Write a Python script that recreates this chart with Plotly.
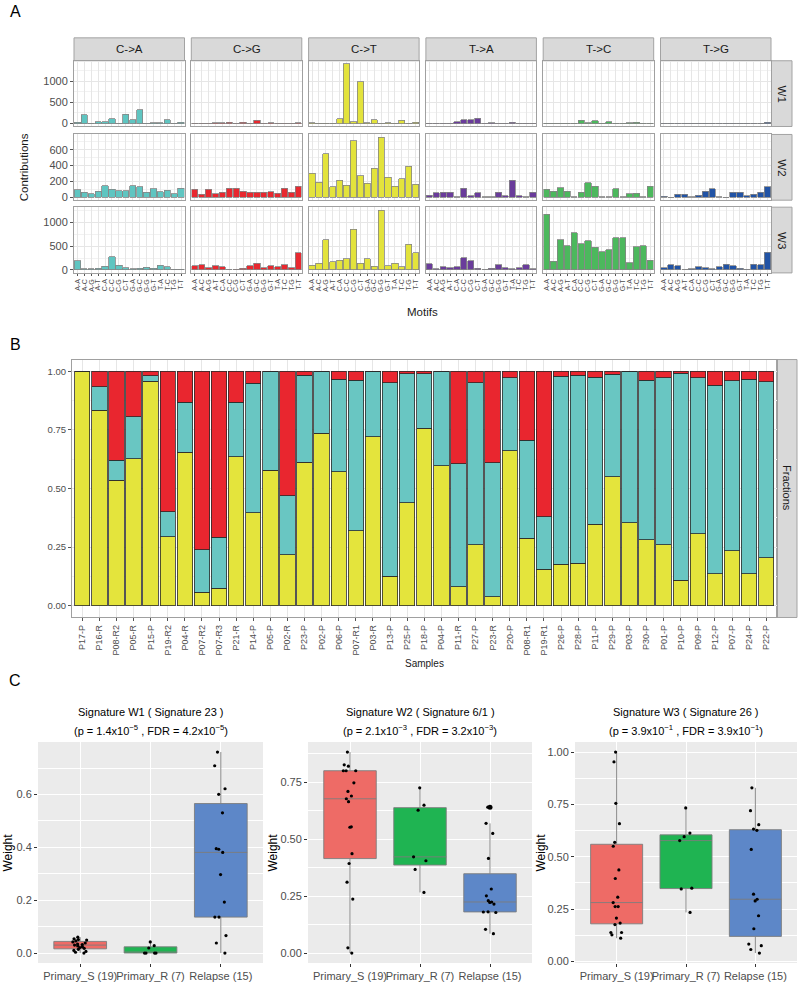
import numpy as np
import plotly.graph_objects as go

FIG_W, FIG_H = 800, 989
FONT = "Liberation Sans, Arial, sans-serif"

# ---------------- Panel A data ----------------
mutation_types = ["C->A", "C->G", "C->T", "T->A", "T->C", "T->G"]
mutation_colors = ["#5fc5c1", "#e8282f", "#e3e33c", "#6a3c9b", "#4cb85d", "#2153a5"]
motif_contexts = ["A-A", "A-C", "A-G", "A-T", "C-A", "C-C", "C-G", "C-T",
                  "G-A", "G-C", "G-G", "G-T", "T-A", "T-C", "T-G", "T-T"]
signature_names = ["W1", "W2", "W3"]

w1_contributions = [
    [25, 210, 5, 40, 40, 113, 5, 225, 90, 330, 5, 15, 15, 90, 3, 30],
    [8, 5, 3, 20, 20, 25, 3, 35, 10, 75, 3, 20, 3, 3, 3, 15],
    [15, 8, 2, 2, 110, 1420, 40, 990, 20, 90, 3, 20, 5, 80, 3, 25],
    [10, 10, 3, 10, 40, 90, 95, 125, 3, 20, 3, 3, 25, 5, 5, 5],
    [5, 3, 10, 5, 3, 80, 20, 70, 5, 45, 3, 3, 15, 25, 3, 5],
    [5, 3, 5, 3, 3, 8, 3, 3, 3, 5, 3, 3, 3, 3, 3, 30],
]
w2_contributions = [
    [95, 65, 45, 77, 145, 100, 80, 80, 145, 130, 65, 105, 70, 90, 45, 110],
    [98, 35, 98, 45, 60, 115, 115, 77, 65, 65, 65, 72, 50, 110, 65, 140],
    [305, 190, 550, 135, 217, 153, 715, 268, 175, 366, 755, 255, 140, 230, 392, 166],
    [25, 55, 65, 65, 8, 110, 17, 55, 8, 8, 65, 20, 213, 20, 3, 65],
    [100, 77, 120, 77, 8, 60, 183, 140, 8, 3, 105, 8, 45, 50, 3, 136],
    [15, 2, 40, 40, 8, 25, 77, 105, 8, 2, 60, 60, 17, 40, 65, 132],
]
w3_contributions = [
    [190, 20, 28, 35, 77, 280, 100, 42, 20, 40, 55, 35, 100, 63, 12, 12],
    [92, 105, 50, 92, 70, 3, 12, 35, 92, 140, 50, 85, 63, 105, 50, 360],
    [100, 140, 635, 170, 205, 232, 852, 140, 232, 77, 1260, 85, 140, 70, 540, 360],
    [127, 28, 63, 42, 63, 260, 190, 35, 3, 35, 105, 50, 20, 50, 105, 20],
    [1175, 183, 640, 507, 780, 550, 612, 480, 387, 430, 683, 683, 155, 486, 507, 204],
    [42, 113, 92, 3, 20, 63, 50, 20, 70, 120, 92, 35, 14, 120, 113, 373],
]
row_dticks = [500, 200, 500]

# ---------------- Panel B data ----------------
sample_names = ["P17-P", "P16-R", "P08-R2", "P05-R", "P15-P", "P19-R2", "P04-R", "P07-R2",
                "P07-R3", "P21-R", "P14-P", "P05-P", "P02-R", "P23-P", "P02-P", "P06-P",
                "P07-R1", "P03-R", "P13-P", "P25-P", "P18-P", "P04-P", "P11-R", "P27-P",
                "P23-R", "P20-P", "P08-R1", "P19-R1", "P26-P", "P28-P", "P11-P", "P29-P",
                "P03-P", "P30-P", "P01-P", "P10-P", "P09-P", "P12-P", "P07-P", "P24-P", "P22-P"]
w3_fraction = [1.000, 0.833, 0.535, 0.626, 0.957, 0.295, 0.654, 0.057, 0.074, 0.635, 0.397,
               0.578, 0.217, 0.613, 0.735, 0.571, 0.320, 0.721, 0.125, 0.439, 0.756, 0.596,
               0.082, 0.261, 0.038, 0.660, 0.288, 0.156, 0.176, 0.181, 0.347, 0.551, 0.353,
               0.282, 0.261, 0.109, 0.307, 0.137, 0.235, 0.137, 0.205]
w2_fraction = [0.000, 0.102, 0.085, 0.181, 0.023, 0.105, 0.213, 0.181, 0.218, 0.232, 0.552,
               0.422, 0.252, 0.370, 0.265, 0.394, 0.642, 0.279, 0.825, 0.551, 0.234, 0.404,
               0.524, 0.689, 0.571, 0.313, 0.417, 0.224, 0.803, 0.802, 0.628, 0.436, 0.647,
               0.680, 0.712, 0.883, 0.665, 0.804, 0.725, 0.829, 0.750]
w1_fraction = [0.000, 0.065, 0.380, 0.193, 0.020, 0.600, 0.133, 0.762, 0.708, 0.133, 0.051,
               0.000, 0.531, 0.017, 0.000, 0.035, 0.038, 0.000, 0.050, 0.010, 0.010, 0.000,
               0.394, 0.050, 0.391, 0.027, 0.295, 0.620, 0.021, 0.017, 0.025, 0.013, 0.000,
               0.038, 0.027, 0.008, 0.028, 0.059, 0.040, 0.034, 0.045]
fraction_colors = {"W3": "#e4e43c", "W2": "#69c6c2", "W1": "#e9262f"}

# ---------------- Panel C data ----------------
group_names = ["Primary_S", "Primary_R", "Relapse"]
group_colors = ["#ee6b66", "#1fb452", "#5d87c8"]
w1_primary_s = [0.0, 0.003, 0.006, 0.010, 0.014, 0.018, 0.021, 0.024, 0.027, 0.030,
                0.032, 0.034, 0.038, 0.042, 0.046, 0.049, 0.051, 0.054, 0.060]
w1_primary_r = [0.042, 0.028, 0.019, 0.0, 0.0, 0.0, 0.0]
w1_relapse = [0.761, 0.709, 0.622, 0.601, 0.531, 0.395, 0.393, 0.381, 0.297, 0.193,
              0.136, 0.136, 0.066, 0.038, 0.0]
w2_primary_s = [0.882, 0.826, 0.820, 0.800, 0.800, 0.800, 0.747, 0.709, 0.689, 0.677,
                0.664, 0.554, 0.552, 0.436, 0.393, 0.311, 0.237, 0.023, 0.0]
w2_primary_r = [0.725, 0.649, 0.627, 0.422, 0.405, 0.367, 0.266]
w2_relapse = [0.640, 0.569, 0.525, 0.415, 0.281, 0.251, 0.230, 0.224, 0.222, 0.215,
              0.181, 0.180, 0.178, 0.104, 0.085]
w3_primary_s = [1.0, 0.953, 0.755, 0.658, 0.569, 0.550, 0.437, 0.396, 0.307, 0.281,
                0.262, 0.262, 0.207, 0.183, 0.176, 0.138, 0.138, 0.127, 0.111]
w3_primary_r = [0.733, 0.613, 0.596, 0.577, 0.350, 0.346, 0.234]
w3_relapse = [0.829, 0.720, 0.653, 0.632, 0.626, 0.535, 0.321, 0.297, 0.289, 0.218,
              0.156, 0.083, 0.075, 0.057, 0.040]
c_titles = ["Signature W1 ( Signature 23 )", "Signature W2 ( Signature 6/1 )",
            "Signature W3 ( Signature 26 )"]
c_subtitles = ["(p = 1.4x10<sup>\u22125</sup> , FDR = 4.2x10<sup>\u22125</sup>)",
               "(p = 2.1x10<sup>\u22123</sup> , FDR = 3.2x10<sup>\u22123</sup>)",
               "(p = 3.9x10<sup>\u22121</sup> , FDR = 3.9x10<sup>\u22121</sup>)"]

# ---------------- helpers ----------------
def xd(x0, x1):
    return [x0 / FIG_W, x1 / FIG_W]


def yd(y0, y1):
    return [1 - y1 / FIG_H, 1 - y0 / FIG_H]


def px(x):
    return x / FIG_W


def py(y):
    return 1 - y / FIG_H


layout = {}
traces = []
shapes = []
annotations = []
ax_counter = [0]


def new_axes():
    ax_counter[0] += 1
    n = ax_counter[0]
    if n == 1:
        return "xaxis", "yaxis", "x", "y"
    return f"xaxis{n}", f"yaxis{n}", f"x{n}", f"y{n}"


def text(x, y, s, size, color="#1a1a1a", angle=0, xanchor="center"):
    annotations.append(dict(x=px(x), y=py(y), xref="paper", yref="paper", text=s,
                            showarrow=False, textangle=angle, xanchor=xanchor,
                            yanchor="middle", font=dict(size=size, color=color, family=FONT)))


def strip(x0, y0, x1, y1):
    shapes.append(dict(type="rect", xref="paper", yref="paper", x0=px(x0), x1=px(x1),
                       y0=py(y1), y1=py(y0), fillcolor="#d9d9d9",
                       line=dict(color="#a3a3a3", width=1), layer="below"))


GRID = "#e6e6e6"
BORDER = "#a0a0a0"

# ---------------- Panel A ----------------
col_x0 = [74, 191.3, 308.6, 425.9, 543.2, 660.5]
col_w = 110.5
row_y = [(61, 127), (135, 201), (208, 274)]
all_contrib = [w1_contributions, w2_contributions, w3_contributions]

for r, contrib in enumerate(all_contrib):
    ymax = max(max(v) for v in contrib)
    yrange = [-0.05 * ymax, 1.05 * ymax]
    dt = row_dticks[r]
    for c in range(6):
        xa, ya, xr, yr = new_axes()
        traces.append(go.Bar(x=motif_contexts, y=contrib[c], xaxis=xr, yaxis=yr, width=0.9,
                             marker=dict(color=mutation_colors[c],
                                         line=dict(color="#858585", width=0.8)),
                             showlegend=False, hoverinfo="skip"))
        layout[xa] = dict(domain=xd(col_x0[c], col_x0[c] + col_w), anchor=yr,
                          type="category", categoryorder="array",
                          categoryarray=motif_contexts, range=[-0.5, 15.5],
                          tickmode="array", tickvals=motif_contexts, ticktext=motif_contexts,
                          showgrid=True, gridcolor=GRID, gridwidth=0.6,
                          showline=True, mirror=True, linecolor=BORDER, linewidth=1,
                          zeroline=False, showticklabels=(r == 2),
                          ticks="outside" if r == 2 else "", ticklen=2.5,
                          tickcolor="#555555", tickwidth=0.6, tickangle=-90,
                          tickfont=dict(size=7, color="#4d4d4d", family=FONT))
        layout[ya] = dict(domain=yd(*row_y[r]), anchor=xr, range=yrange, tick0=0, dtick=dt,
                          showgrid=True, gridcolor=GRID, gridwidth=0.6,
                          minor=dict(tick0=0, dtick=dt / 2, showgrid=True,
                                     gridcolor="#f2f2f2", gridwidth=0.5),
                          showline=True, mirror=True, linecolor=BORDER, linewidth=1,
                          zeroline=False, showticklabels=(c == 0),
                          ticks="outside" if c == 0 else "", ticklen=3,
                          tickcolor="#555555", tickwidth=0.6,
                          tickfont=dict(size=11, color="#4d4d4d", family=FONT))

for c, name in enumerate(mutation_types):
    strip(col_x0[c], 38, col_x0[c] + col_w, 61)
    text(col_x0[c] + col_w / 2, 49.5, name, 11.5)
for r, name in enumerate(signature_names):
    strip(771.5, row_y[r][0], 792, row_y[r][1])
    text(782, (row_y[r][0] + row_y[r][1]) / 2, name, 11.5, angle=90)

text(24, 168, "Contributions", 11.5, angle=-90)
text(422, 313, "Motifs", 11.5)
text(15, 12, "A", 16, color="black")

# ---------------- Panel B ----------------
xa, ya, xr, yr = new_axes()
for vals, key in [(w3_fraction, "W3"), (w2_fraction, "W2"), (w1_fraction, "W1")]:
    traces.append(go.Bar(x=sample_names, y=vals, xaxis=xr, yaxis=yr, width=0.9,
                         marker=dict(color=fraction_colors[key],
                                     line=dict(color="#2a2a2a", width=0.8)),
                         showlegend=False, hoverinfo="skip"))
layout[xa] = dict(domain=xd(72, 776.5), anchor=yr, type="category", categoryorder="array",
                  categoryarray=sample_names, range=[-0.6, len(sample_names) - 0.4],
                  tickmode="array", tickvals=sample_names, ticktext=sample_names,
                  showgrid=True, gridcolor=GRID, gridwidth=0.6,
                  showline=True, mirror=True, linecolor=BORDER, linewidth=1, zeroline=False,
                  ticks="outside", ticklen=3, tickcolor="#555555", tickwidth=0.6,
                  tickangle=-90, tickfont=dict(size=9, color="#4d4d4d", family=FONT))
layout[ya] = dict(domain=yd(361, 620), anchor=xr, range=[-0.05, 1.05], tick0=0, dtick=0.25,
                  tickformat=".2f", showgrid=True, gridcolor=GRID, gridwidth=0.6,
                  minor=dict(tick0=0, dtick=0.125, showgrid=True, gridcolor="#f2f2f2",
                             gridwidth=0.5),
                  showline=True, mirror=True, linecolor=BORDER, linewidth=1, zeroline=False,
                  ticks="outside", ticklen=3, tickcolor="#555555", tickwidth=0.6,
                  tickfont=dict(size=9.5, color="#4d4d4d", family=FONT))
strip(776.5, 361, 797, 620)
text(787, 490, "Fractions", 11, angle=90)
text(424, 666, "Samples", 10)
text(15, 346, "B", 16, color="black")

# ---------------- Panel C ----------------
c_data = [[w1_primary_s, w1_primary_r, w1_relapse],
          [w2_primary_s, w2_primary_r, w2_relapse],
          [w3_primary_s, w3_primary_r, w3_relapse]]
c_x = [(38, 263), (308, 532), (575, 797)]
c_y = (745, 967)
c_dtick = [0.2, 0.25, 0.25]
c_fmt = [".1f", ".2f", ".2f"]
weight_x = [8, 273, 541]

for s in range(3):
    xa, ya, xr, yr = new_axes()
    groups = c_data[s]
    cats = [f"{g} ({len(v)})" for g, v in zip(group_names, groups)]
    allv = [v for g in groups for v in g]
    lo_all, hi_all = min(allv), max(allv)
    span = hi_all - lo_all
    shapes.append(dict(type="rect", xref=f"{xr} domain", yref=f"{yr} domain",
                       x0=0, x1=1, y0=0, y1=1, fillcolor="#ebebeb",
                       line=dict(width=0), layer="below"))
    for gi, vals in enumerate(groups):
        arr = np.array(vals)
        q1, med, q3 = np.percentile(arr, [25, 50, 75])
        iqr = q3 - q1
        inside = arr[(arr >= q1 - 1.5 * iqr) & (arr <= q3 + 1.5 * iqr)]
        outl = arr[(arr < q1 - 1.5 * iqr) | (arr > q3 + 1.5 * iqr)]
        traces.append(go.Box(x=[cats[gi]], q1=[q1], median=[med], q3=[q3],
                             lowerfence=[inside.min()], upperfence=[inside.max()],
                             xaxis=xr, yaxis=yr, width=0.75, whiskerwidth=0,
                             fillcolor=group_colors[gi],
                             line=dict(color="#7d7d7d", width=0.9),
                             boxpoints=False, showlegend=False, hoverinfo="skip"))
        if len(outl):
            traces.append(go.Scatter(x=[cats[gi]] * len(outl), y=list(outl), mode="markers",
                                     xaxis=xr, yaxis=yr,
                                     marker=dict(color="black", size=5),
                                     showlegend=False, hoverinfo="skip"))
        traces.append(go.Box(x=[cats[gi]] * len(vals), y=vals, xaxis=xr, yaxis=yr,
                             width=0.75, boxpoints="all", jitter=0.3, pointpos=0,
                             fillcolor="rgba(0,0,0,0)",
                             line=dict(color="rgba(0,0,0,0)", width=0),
                             marker=dict(color="black", size=3.2),
                             showlegend=False, hoverinfo="skip"))
    layout[xa] = dict(domain=xd(*c_x[s]), anchor=yr, type="category", categoryorder="array",
                      categoryarray=cats, range=[-0.6, 2.6], showgrid=True,
                      tickmode="array", tickvals=cats, ticktext=cats,
                      gridcolor="white", gridwidth=1.1, zeroline=False, showline=False,
                      ticks="outside", ticklen=3, tickcolor="#333333", tickwidth=0.8,
                      tickangle=0,
                      tickfont=dict(size=11, color="#4d4d4d", family=FONT))
    layout[ya] = dict(domain=yd(*c_y), anchor=xr,
                      range=[lo_all - 0.05 * span, hi_all + 0.05 * span],
                      tick0=0, dtick=c_dtick[s], tickformat=c_fmt[s],
                      showgrid=True, gridcolor="white", gridwidth=1.1,
                      minor=dict(tick0=0, dtick=c_dtick[s] / 2, showgrid=True,
                                 gridcolor="white", gridwidth=0.5),
                      zeroline=False, showline=False, ticks="outside", ticklen=3,
                      tickcolor="#333333", tickwidth=0.8,
                      tickfont=dict(size=11, color="#4d4d4d", family=FONT))
    cx = (c_x[s][0] + c_x[s][1]) / 2
    text(cx, 715, c_titles[s], 11, color="black")
    text(cx, 733, c_subtitles[s], 11, color="black")
    text(weight_x[s], 856, "Weight", 12, color="black", angle=-90)

text(15, 683, "C", 16, color="black")

fig = go.Figure(data=traces)
fig.update_layout(**layout)
fig.update_layout(width=FIG_W, height=FIG_H, autosize=False,
                  margin=dict(l=0, r=0, t=0, b=0),
                  paper_bgcolor="white", plot_bgcolor="white",
                  barmode="stack", boxmode="overlay", showlegend=False,
                  font=dict(family=FONT), shapes=shapes, annotations=annotations)
fig.write_html("out.html",
               config={"displayModeBar": False},
               post_script="document.body.style.margin='0px';"
                           "document.body.style.overflow='hidden';")
